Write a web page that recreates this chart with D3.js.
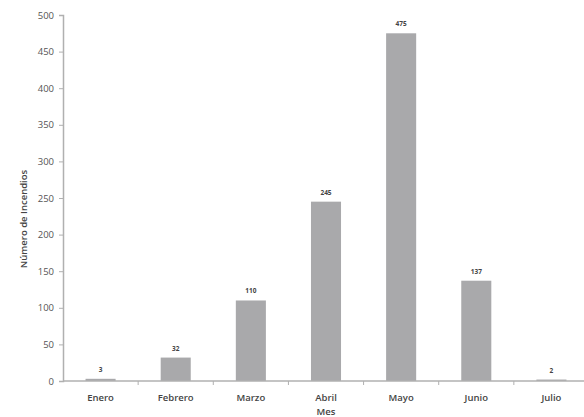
<!DOCTYPE html>
<html>
<head>
<meta charset="utf-8">
<script src="https://cdn.jsdelivr.net/npm/d3@7"></script>
<style>
  body { margin: 0; background: #fff; }
  svg text { font-family: "Open Sans", "Noto Sans", sans-serif; }
</style>
</head>
<body>
<svg id="chart" width="584" height="417"></svg>
<script>
// Incendios por mes
const meses = ["Enero", "Febrero", "Marzo", "Abril", "Mayo", "Junio", "Julio"];
const incendios = [3, 32, 110, 245, 475, 137, 2];
const yTicks = [0, 50, 100, 150, 200, 250, 300, 350, 400, 450, 500];

const svg = d3.select("#chart");
const plotLeft = 63, plotRight = 589, plotTop = 15, plotBottom = 381;

const x = d3.scaleBand().domain(meses).range([plotLeft, plotRight]).paddingInner(0.6).paddingOuter(0.3);
const y = d3.scaleLinear().domain([0, 500]).range([plotBottom, plotTop]);

const axisColor = "#b0b0b0";
const textColor = "#555";

// bars
svg.append("g").selectAll("rect").data(meses).join("rect")
  .attr("x", d => x(d))
  .attr("width", x.bandwidth())
  .attr("y", (d, i) => y(incendios[i]))
  .attr("height", (d, i) => y(0) - y(incendios[i]))
  .attr("fill", "#a9a9ab");

// value labels
svg.append("g").selectAll("text").data(meses).join("text")
  .attr("x", d => x(d) + x.bandwidth() / 2)
  .attr("y", (d, i) => y(incendios[i]) - 7)
  .attr("text-anchor", "middle")
  .attr("font-size", 6.5)
  .attr("font-weight", "bold")
  .attr("fill", "#444")
  .text((d, i) => incendios[i]);

// y axis
const yAxis = svg.append("g").attr("transform", `translate(${plotLeft},0)`)
  .call(d3.axisLeft(y).tickValues(yTicks).tickSize(4).tickPadding(5));
yAxis.select(".domain").attr("stroke", axisColor).attr("stroke-width", 1.5);
yAxis.selectAll(".tick line").attr("stroke", axisColor);
yAxis.selectAll(".tick text").attr("fill", textColor).attr("font-size", 9.5)
  .style("font-family", "'Open Sans', sans-serif");

// x axis: line with tick marks at category boundaries
const xg = svg.append("g");
xg.append("line").attr("x1", plotLeft).attr("x2", 584).attr("y1", plotBottom).attr("y2", plotBottom)
  .attr("stroke", axisColor).attr("stroke-width", 1.5);
const step = x.step();
xg.selectAll("line.tk").data(meses.slice(1)).join("line").attr("class", "tk")
  .attr("x1", d => x(d) - (step - x.bandwidth()) / 2)
  .attr("x2", d => x(d) - (step - x.bandwidth()) / 2)
  .attr("y1", plotBottom).attr("y2", plotBottom + 4)
  .attr("stroke", axisColor);
xg.selectAll("text").data(meses).join("text")
  .attr("x", d => x(d) + x.bandwidth() / 2)
  .attr("y", 401)
  .attr("text-anchor", "middle")
  .attr("font-size", 9.5)
  .attr("font-weight", 600)
  .attr("fill", "#444")
  .text(d => d);

// axis titles
svg.append("text")
  .attr("x", x("Abril") + x.bandwidth() / 2).attr("y", 415)
  .attr("text-anchor", "middle")
  .attr("font-size", 9.5).attr("font-weight", 600).attr("fill", "#444")
  .text("Mes");
svg.append("text")
  .attr("transform", "translate(27,219) rotate(-90)")
  .attr("text-anchor", "middle")
  .attr("font-size", 9.5).attr("font-weight", 600).attr("fill", "#444")
  .text("Número de Incendios");
</script>
</body>
</html>
